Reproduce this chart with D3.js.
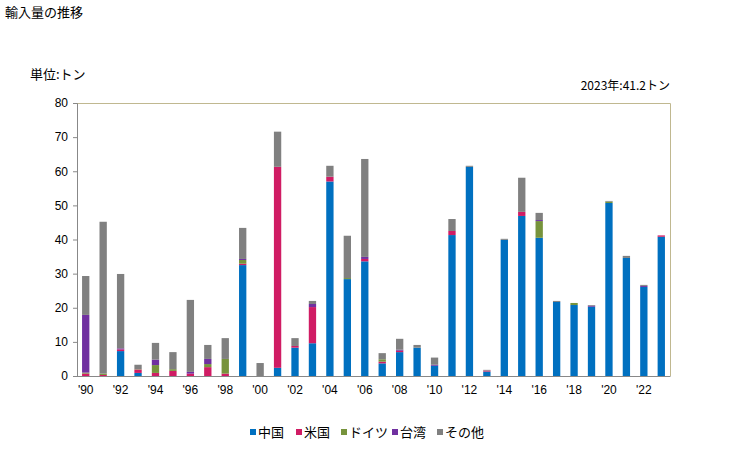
<!DOCTYPE html>
<html><head><meta charset="utf-8">
<script src="https://cdn.jsdelivr.net/npm/d3@7/dist/d3.min.js"></script>
<style>body{margin:0;background:#fff}svg{display:block;font-family:"Noto Sans CJK JP","Liberation Sans",sans-serif}</style>
</head><body>
<svg id="c" width="729" height="450"></svg>
<script>
const years = d3.range(1990, 2024);
const seriesNames = ["中国","米国","ドイツ","台湾","その他"];
const colors = ["#0070c0","#d01c64","#77933c","#7030a0","#808080"];
const china  = [0,0,7.3,0.9,0,0,0,0,0,32.5,0,2.4,8.3,9.6,57.0,28.4,33.6,3.7,7.0,8.3,3.0,41.3,61.3,1.3,39.9,46.9,40.5,21.7,20.8,20.3,50.7,34.6,26.1,40.8];
const usa    = [0.7,0.3,0.5,1.0,0.9,1.5,0.7,2.6,0.7,0.4,0,58.9,0.5,10.6,1.4,0,0.7,0.5,0.4,0,0,1.2,0,0.3,0,1.2,0,0,0,0,0,0,0,0.4];
const germany= [0.3,0.4,0,0.1,2.3,0.5,0,0.9,4.3,1.1,0,0,0,0,0,0.3,0,0.7,0,0,0,0,0,0,0,0,4.9,0,0.6,0,0.4,0,0,0];
const taiwan = [16.9,0,0.3,0,1.6,0,0.5,1.5,0,0.3,0,0,0,0.9,0,0,0.6,0,0.3,0,0.3,0,0,0,0,0,0.3,0,0,0.3,0,0,0.3,0];
const others = [11.4,44.5,21.8,1.3,4.9,5.0,21.1,4.1,6.1,9.1,3.8,10.3,2.3,0.9,3.2,12.4,28.7,1.8,3.2,0.8,2.1,3.5,0.3,0.2,0.3,10.0,2.1,0.3,0,0.2,0.2,0.6,0.3,0];
const yTicks = [0,10,20,30,40,50,60,70,80];

const rows = years.map((y,i)=>({year:y,"中国":china[i],"米国":usa[i],"ドイツ":germany[i],"台湾":taiwan[i],"その他":others[i]}));
const stack = d3.stack().keys(seriesNames)(rows);

const svg = d3.select("#c");
const L=77, R=670, T=103, B=376;
const x = d3.scaleBand().domain(years).range([L,R]).paddingInner(0.58).paddingOuter(0.29);
const y = d3.scaleLinear().domain([0,80]).range([B,T]);

svg.append("text").attr("x",5).attr("y",17).attr("font-size",13).text("輸入量の推移");
svg.append("text").attr("x",30).attr("y",79).attr("font-size",13).text("単位:トン");
svg.append("text").attr("x",670).attr("y",90).attr("font-size",12).attr("text-anchor","end").text("2023年:41.2トン");

svg.append("path").attr("d",`M${L},${T+0.5}H${R+0.5}V${B}`).attr("fill","none").attr("stroke","#c0b890");

stack.forEach((s,si)=>{
  svg.append("g").attr("fill",colors[si]).selectAll("rect").data(s).join("rect")
    .attr("x",d=>x(d.data.year)).attr("width",x.bandwidth())
    .attr("y",d=>y(d[1])).attr("height",d=>Math.max(0,y(d[0])-y(d[1])));
});

const ya = svg.append("g").attr("transform",`translate(${L},0)`)
  .call(d3.axisLeft(y).tickValues(yTicks).tickSize(4).tickPadding(5));
ya.select(".domain").attr("stroke","#888");
ya.selectAll(".tick line").attr("stroke","#888");
ya.selectAll("text").attr("font-size",12).attr("fill","#000").attr("font-family","Liberation Sans, sans-serif");

const xa = svg.append("g").attr("transform",`translate(0,${B})`)
  .call(d3.axisBottom(x).tickValues(years.filter(v=>v%2===0)).tickSize(0).tickPadding(9)
    .tickFormat(v=>"'"+String(v).slice(2)));
xa.select(".domain").attr("stroke","#888").attr("d",`M${L},0.5H${R+0.5}`);
xa.selectAll("text").attr("font-size",12).attr("fill","#000").attr("font-family","Liberation Sans, sans-serif");

const lg = svg.append("g").attr("font-size",13);
const lx = [250,296,341,392,437];
seriesNames.forEach((n,i)=>{
  lg.append("rect").attr("x",lx[i]).attr("y",429).attr("width",6).attr("height",6).attr("fill",colors[i]);
  lg.append("text").attr("x",lx[i]+8).attr("y",437).text(n);
});
</script>
</body></html>
